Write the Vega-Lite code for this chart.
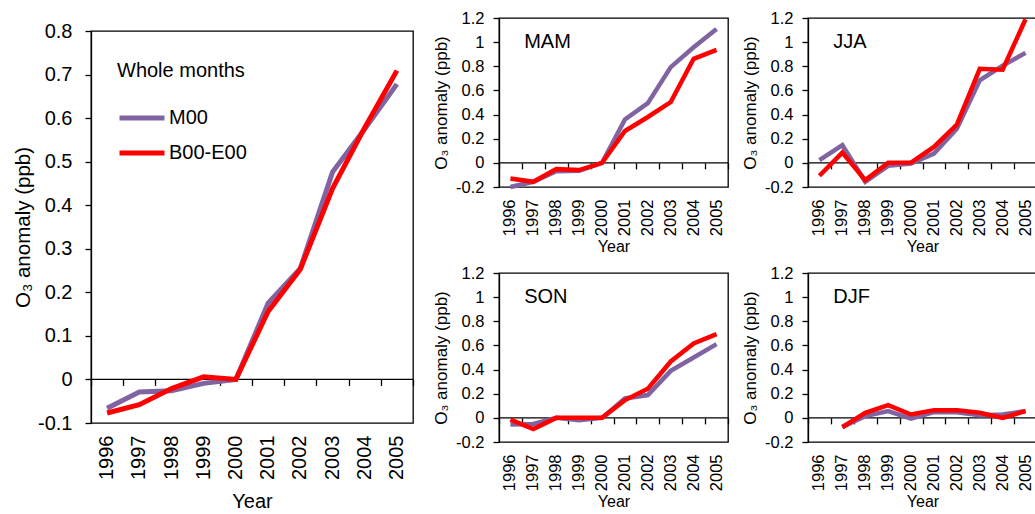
{
  "$schema": "https://vega.github.io/schema/vega-lite/v6.json",
  "padding": {"left": 12, "top": 9, "right": 0, "bottom": 0},
  "config": {
    "font": "Liberation Sans",
    "view": {"stroke": "#000", "strokeWidth": 1.3},
    "axis": {"grid": false, "domainColor": "#000", "tickColor": "#000", "labelColor": "#000", "titleColor": "#000", "titleFontWeight": "normal", "domainWidth": 1.3, "tickWidth": 1.3, "labelFont": "Liberation Sans", "titleFont": "Liberation Sans"},
    "legend": {"labelFont": "Liberation Sans", "titleFont": "Liberation Sans", "labelColor": "#000", "titleColor": "#000"}
  },
  "data": {"values": [
    {"panel": "ALL", "series": "M00", "year": "1996", "value": -0.066},
    {"panel": "ALL", "series": "M00", "year": "1997", "value": -0.029},
    {"panel": "ALL", "series": "M00", "year": "1998", "value": -0.026},
    {"panel": "ALL", "series": "M00", "year": "1999", "value": -0.009},
    {"panel": "ALL", "series": "M00", "year": "2000", "value": 0},
    {"panel": "ALL", "series": "M00", "year": "2001", "value": 0.175},
    {"panel": "ALL", "series": "M00", "year": "2002", "value": 0.255},
    {"panel": "ALL", "series": "M00", "year": "2003", "value": 0.476},
    {"panel": "ALL", "series": "M00", "year": "2004", "value": 0.575},
    {"panel": "ALL", "series": "M00", "year": "2005", "value": 0.678},
    {"panel": "ALL", "series": "B00-E00", "year": "1996", "value": -0.077},
    {"panel": "ALL", "series": "B00-E00", "year": "1997", "value": -0.058},
    {"panel": "ALL", "series": "B00-E00", "year": "1998", "value": -0.021},
    {"panel": "ALL", "series": "B00-E00", "year": "1999", "value": 0.006},
    {"panel": "ALL", "series": "B00-E00", "year": "2000", "value": 0},
    {"panel": "ALL", "series": "B00-E00", "year": "2001", "value": 0.156},
    {"panel": "ALL", "series": "B00-E00", "year": "2002", "value": 0.253},
    {"panel": "ALL", "series": "B00-E00", "year": "2003", "value": 0.438},
    {"panel": "ALL", "series": "B00-E00", "year": "2004", "value": 0.578},
    {"panel": "ALL", "series": "B00-E00", "year": "2005", "value": 0.709},

    {"panel": "MAM", "series": "M00", "year": "1996", "value": -0.2},
    {"panel": "MAM", "series": "M00", "year": "1997", "value": -0.157},
    {"panel": "MAM", "series": "M00", "year": "1998", "value": -0.07},
    {"panel": "MAM", "series": "M00", "year": "1999", "value": -0.066},
    {"panel": "MAM", "series": "M00", "year": "2000", "value": 0},
    {"panel": "MAM", "series": "M00", "year": "2001", "value": 0.36},
    {"panel": "MAM", "series": "M00", "year": "2002", "value": 0.495},
    {"panel": "MAM", "series": "M00", "year": "2003", "value": 0.793},
    {"panel": "MAM", "series": "M00", "year": "2004", "value": 0.958},
    {"panel": "MAM", "series": "M00", "year": "2005", "value": 1.109},
    {"panel": "MAM", "series": "B00-E00", "year": "1996", "value": -0.129},
    {"panel": "MAM", "series": "B00-E00", "year": "1997", "value": -0.157},
    {"panel": "MAM", "series": "B00-E00", "year": "1998", "value": -0.052},
    {"panel": "MAM", "series": "B00-E00", "year": "1999", "value": -0.06},
    {"panel": "MAM", "series": "B00-E00", "year": "2000", "value": 0},
    {"panel": "MAM", "series": "B00-E00", "year": "2001", "value": 0.264},
    {"panel": "MAM", "series": "B00-E00", "year": "2002", "value": 0.38},
    {"panel": "MAM", "series": "B00-E00", "year": "2003", "value": 0.504},
    {"panel": "MAM", "series": "B00-E00", "year": "2004", "value": 0.862},
    {"panel": "MAM", "series": "B00-E00", "year": "2005", "value": 0.936},

    {"panel": "JJA", "series": "M00", "year": "1996", "value": 0.022},
    {"panel": "JJA", "series": "M00", "year": "1997", "value": 0.146},
    {"panel": "JJA", "series": "M00", "year": "1998", "value": -0.157},
    {"panel": "JJA", "series": "M00", "year": "1999", "value": -0.025},
    {"panel": "JJA", "series": "M00", "year": "2000", "value": -0.005},
    {"panel": "JJA", "series": "M00", "year": "2001", "value": 0.077},
    {"panel": "JJA", "series": "M00", "year": "2002", "value": 0.283},
    {"panel": "JJA", "series": "M00", "year": "2003", "value": 0.683},
    {"panel": "JJA", "series": "M00", "year": "2004", "value": 0.806},
    {"panel": "JJA", "series": "M00", "year": "2005", "value": 0.911},
    {"panel": "JJA", "series": "B00-E00", "year": "1996", "value": -0.107},
    {"panel": "JJA", "series": "B00-E00", "year": "1997", "value": 0.085},
    {"panel": "JJA", "series": "B00-E00", "year": "1998", "value": -0.143},
    {"panel": "JJA", "series": "B00-E00", "year": "1999", "value": 0.0},
    {"panel": "JJA", "series": "B00-E00", "year": "2000", "value": 0.003},
    {"panel": "JJA", "series": "B00-E00", "year": "2001", "value": 0.132},
    {"panel": "JJA", "series": "B00-E00", "year": "2002", "value": 0.317},
    {"panel": "JJA", "series": "B00-E00", "year": "2003", "value": 0.779},
    {"panel": "JJA", "series": "B00-E00", "year": "2004", "value": 0.771},
    {"panel": "JJA", "series": "B00-E00", "year": "2005", "value": 1.19},

    {"panel": "SON", "series": "M00", "year": "1996", "value": -0.056},
    {"panel": "SON", "series": "M00", "year": "1997", "value": -0.05},
    {"panel": "SON", "series": "M00", "year": "1998", "value": 0},
    {"panel": "SON", "series": "M00", "year": "1999", "value": -0.02},
    {"panel": "SON", "series": "M00", "year": "2000", "value": 0},
    {"panel": "SON", "series": "M00", "year": "2001", "value": 0.161},
    {"panel": "SON", "series": "M00", "year": "2002", "value": 0.189},
    {"panel": "SON", "series": "M00", "year": "2003", "value": 0.389},
    {"panel": "SON", "series": "M00", "year": "2004", "value": 0.5},
    {"panel": "SON", "series": "M00", "year": "2005", "value": 0.611},
    {"panel": "SON", "series": "B00-E00", "year": "1996", "value": -0.014},
    {"panel": "SON", "series": "B00-E00", "year": "1997", "value": -0.092},
    {"panel": "SON", "series": "B00-E00", "year": "1998", "value": 0},
    {"panel": "SON", "series": "B00-E00", "year": "1999", "value": 0},
    {"panel": "SON", "series": "B00-E00", "year": "2000", "value": 0},
    {"panel": "SON", "series": "B00-E00", "year": "2001", "value": 0.147},
    {"panel": "SON", "series": "B00-E00", "year": "2002", "value": 0.242},
    {"panel": "SON", "series": "B00-E00", "year": "2003", "value": 0.467},
    {"panel": "SON", "series": "B00-E00", "year": "2004", "value": 0.617},
    {"panel": "SON", "series": "B00-E00", "year": "2005", "value": 0.694},

    {"panel": "DJF", "series": "M00", "year": "1997", "value": -0.075},
    {"panel": "DJF", "series": "M00", "year": "1998", "value": 0.014},
    {"panel": "DJF", "series": "M00", "year": "1999", "value": 0.056},
    {"panel": "DJF", "series": "M00", "year": "2000", "value": -0.006},
    {"panel": "DJF", "series": "M00", "year": "2001", "value": 0.047},
    {"panel": "DJF", "series": "M00", "year": "2002", "value": 0.047},
    {"panel": "DJF", "series": "M00", "year": "2003", "value": 0.022},
    {"panel": "DJF", "series": "M00", "year": "2004", "value": 0.028},
    {"panel": "DJF", "series": "M00", "year": "2005", "value": 0.056},
    {"panel": "DJF", "series": "B00-E00", "year": "1997", "value": -0.078},
    {"panel": "DJF", "series": "B00-E00", "year": "1998", "value": 0.042},
    {"panel": "DJF", "series": "B00-E00", "year": "1999", "value": 0.106},
    {"panel": "DJF", "series": "B00-E00", "year": "2000", "value": 0.028},
    {"panel": "DJF", "series": "B00-E00", "year": "2001", "value": 0.064},
    {"panel": "DJF", "series": "B00-E00", "year": "2002", "value": 0.064},
    {"panel": "DJF", "series": "B00-E00", "year": "2003", "value": 0.042},
    {"panel": "DJF", "series": "B00-E00", "year": "2004", "value": 0.0},
    {"panel": "DJF", "series": "B00-E00", "year": "2005", "value": 0.056}
  ]},
  "resolve": {"legend": {"color": "independent"}},
  "spacing": 16,
  "hconcat": [
    {
      "spacing": 1,
      "vconcat": [
        {
          "width": 10, "height": 1,
          "view": {"stroke": null},
          "data": {"values": []},
          "mark": {"type": "point", "opacity": 0},
          "encoding": {}
        },
        {
          "width": 322,
          "height": 392,
          "resolve": {"axis": {"x": "independent"}},
          "layer": [
            {
              "data": {"values": [{}]},
              "mark": {"type": "rule", "color": "#000", "strokeWidth": 1.3},
              "encoding": {"y": {"datum": 0, "type": "quantitative", "scale": {"domain": [-0.1, 0.8], "nice": false, "zero": false},
                "axis": {"title": "O₃ anomaly (ppb)", "values": [-0.1, 0, 0.1, 0.2, 0.3, 0.4, 0.5, 0.6, 0.7, 0.8], "format": ".1~f", "labelExpr": "replace(datum.label, '−', '-')", "labelFontSize": 20, "labelPadding": 13, "tickSize": 6, "titleFontSize": 20.5, "titlePadding": 4}}}
            },
            {
              "transform": [{"filter": "datum.panel === 'ALL' && datum.series === 'M00'"}],
              "mark": {"type": "line", "strokeWidth": 5},
              "encoding": {
                "x": {"field": "year", "type": "ordinal", "bandPosition": 0.5, "scale": {"type": "band", "domain": ["1996","1997","1998","1999","2000","2001","2002","2003","2004","2005"], "paddingInner": 0, "paddingOuter": 0},
                  "axis": {"orient": "bottom", "title": "Year", "ticks": false, "tickSize": 0, "domain": false, "labelAngle": -90, "labelFontSize": 20, "labelPadding": 12, "titleFontSize": 20, "titlePadding": 12}},
                "y": {"field": "value", "type": "quantitative", "scale": {"domain": [-0.1, 0.8], "nice": false, "zero": false},
                  "axis": {"title": "O₃ anomaly (ppb)", "values": [-0.1, 0, 0.1, 0.2, 0.3, 0.4, 0.5, 0.6, 0.7, 0.8], "format": ".1~f", "labelExpr": "replace(datum.label, '−', '-')", "labelFontSize": 20, "labelPadding": 13, "tickSize": 6, "titleFontSize": 20.5, "titlePadding": 4}},
                "color": {"field": "series", "type": "nominal", "scale": {"domain": ["M00", "B00-E00"], "range": ["#8064A2", "#FF0000"]},
                  "legend": {"title": "Whole months", "orient": "none", "legendX": 26, "legendY": 43, "titleFontSize": 20, "titleFontWeight": "normal", "labelFontSize": 20, "symbolType": "stroke", "symbolSize": 2025, "symbolStrokeWidth": 5, "titlePadding": 12, "rowPadding": -10, "labelOffset": 2, "padding": 0}}
              }
            },
            {
              "transform": [{"filter": "datum.panel === 'ALL' && datum.series === 'B00-E00'"}],
              "mark": {"type": "line", "strokeWidth": 5},
              "encoding": {
                "x": {"field": "year", "type": "ordinal", "bandPosition": 0.5, "scale": {"type": "band", "domain": ["1996","1997","1998","1999","2000","2001","2002","2003","2004","2005"], "paddingInner": 0, "paddingOuter": 0},
                  "axis": {"orient": "bottom", "title": null, "labels": false, "domain": false, "ticks": true, "tickBand": "extent", "tickSize": 6, "offset": -43.556}},
                "y": {"field": "value", "type": "quantitative", "scale": {"domain": [-0.1, 0.8], "nice": false, "zero": false},
                  "axis": {"title": "O₃ anomaly (ppb)", "values": [-0.1, 0, 0.1, 0.2, 0.3, 0.4, 0.5, 0.6, 0.7, 0.8], "format": ".1~f", "labelExpr": "replace(datum.label, '−', '-')", "labelFontSize": 20, "labelPadding": 13, "tickSize": 6, "titleFontSize": 20.5, "titlePadding": 4}},
                "color": {"field": "series", "type": "nominal", "scale": {"domain": ["M00", "B00-E00"], "range": ["#8064A2", "#FF0000"]}, "legend": null}
              }
            }
          ]
        }
      ]
    },
    {
      "spacing": 8,
      "vconcat": [
        {
          "spacing": 10,
          "hconcat": [
            {
              "width": 229, "height": 169,
              "resolve": {"axis": {"x": "independent"}},
              "layer": [
                {"data": {"values": [{}]}, "mark": {"type": "rule", "color": "#000", "strokeWidth": 1.3},
                 "encoding": {"y": {"datum": 0, "type": "quantitative", "scale": {"domain": [-0.2, 1.2], "nice": false, "zero": false},
                   "axis": {"title": "O₃ anomaly (ppb)", "values": [-0.2, 0, 0.2, 0.4, 0.6, 0.8, 1, 1.2], "format": ".1~f", "labelExpr": "replace(datum.label, '−', '-')", "labelFontSize": 16.5, "labelPadding": 9, "tickSize": 6, "titleFontSize": 17, "titlePadding": 5}}}},
                {"transform": [{"filter": "datum.panel === 'MAM' && datum.series === 'M00'"}], "mark": {"type": "line", "strokeWidth": 4.5},
                 "encoding": {
                   "x": {"field": "year", "type": "ordinal", "bandPosition": 0.5, "scale": {"type": "band", "domain": ["1996","1997","1998","1999","2000","2001","2002","2003","2004","2005"], "paddingInner": 0, "paddingOuter": 0},
                     "axis": {"orient": "bottom", "title": "Year", "ticks": false, "tickSize": 0, "domain": false, "labelAngle": -90, "labelFontSize": 16.5, "labelPadding": 12, "titleFontSize": 16, "titlePadding": 3}},
                   "y": {"field": "value", "type": "quantitative", "scale": {"domain": [-0.2, 1.2], "nice": false, "zero": false},
                     "axis": {"title": "O₃ anomaly (ppb)", "values": [-0.2, 0, 0.2, 0.4, 0.6, 0.8, 1, 1.2], "format": ".1~f", "labelExpr": "replace(datum.label, '−', '-')", "labelFontSize": 16.5, "labelPadding": 9, "tickSize": 6, "titleFontSize": 17, "titlePadding": 5}},
                   "color": {"field": "series", "type": "nominal", "scale": {"domain": ["M00", "B00-E00"], "range": ["#8064A2", "#FF0000"]}, "legend": null}}},
                {"transform": [{"filter": "datum.panel === 'MAM' && datum.series === 'B00-E00'"}], "mark": {"type": "line", "strokeWidth": 4.5},
                 "encoding": {
                   "x": {"field": "year", "type": "ordinal", "bandPosition": 0.5, "scale": {"type": "band", "domain": ["1996","1997","1998","1999","2000","2001","2002","2003","2004","2005"], "paddingInner": 0, "paddingOuter": 0},
                     "axis": {"orient": "bottom", "title": null, "labels": false, "domain": false, "ticks": true, "tickBand": "extent", "tickSize": 6, "offset": -24.143}},
                   "y": {"field": "value", "type": "quantitative", "scale": {"domain": [-0.2, 1.2], "nice": false, "zero": false},
                     "axis": {"title": "O₃ anomaly (ppb)", "values": [-0.2, 0, 0.2, 0.4, 0.6, 0.8, 1, 1.2], "format": ".1~f", "labelExpr": "replace(datum.label, '−', '-')", "labelFontSize": 16.5, "labelPadding": 9, "tickSize": 6, "titleFontSize": 17, "titlePadding": 5}},
                   "color": {"field": "series", "type": "nominal", "scale": {"domain": ["M00", "B00-E00"], "range": ["#8064A2", "#FF0000"]}, "legend": null}}},
                {"data": {"values": [{}]}, "mark": {"type": "text", "align": "left", "baseline": "middle", "fontSize": 20, "color": "#000"},
                 "encoding": {
                   "x": {"datum": "1997", "type": "ordinal", "bandPosition": 0.1, "scale": {"type": "band", "domain": ["1996","1997","1998","1999","2000","2001","2002","2003","2004","2005"], "paddingInner": 0, "paddingOuter": 0}, "axis": null},
                   "y": {"datum": 1, "type": "quantitative", "scale": {"domain": [-0.2, 1.2], "nice": false, "zero": false},
                     "axis": {"title": "O₃ anomaly (ppb)", "values": [-0.2, 0, 0.2, 0.4, 0.6, 0.8, 1, 1.2], "format": ".1~f", "labelExpr": "replace(datum.label, '−', '-')", "labelFontSize": 16.5, "labelPadding": 9, "tickSize": 6, "titleFontSize": 17, "titlePadding": 5}},
                   "text": {"value": "MAM"}}}
              ]
            },
            {
              "width": 229, "height": 169,
              "resolve": {"axis": {"x": "independent"}},
              "layer": [
                {"data": {"values": [{}]}, "mark": {"type": "rule", "color": "#000", "strokeWidth": 1.3},
                 "encoding": {"y": {"datum": 0, "type": "quantitative", "scale": {"domain": [-0.2, 1.2], "nice": false, "zero": false},
                   "axis": {"title": "O₃ anomaly (ppb)", "values": [-0.2, 0, 0.2, 0.4, 0.6, 0.8, 1, 1.2], "format": ".1~f", "labelExpr": "replace(datum.label, '−', '-')", "labelFontSize": 16.5, "labelPadding": 9, "tickSize": 6, "titleFontSize": 17, "titlePadding": 5}}}},
                {"transform": [{"filter": "datum.panel === 'JJA' && datum.series === 'M00'"}], "mark": {"type": "line", "strokeWidth": 4.5},
                 "encoding": {
                   "x": {"field": "year", "type": "ordinal", "bandPosition": 0.5, "scale": {"type": "band", "domain": ["1996","1997","1998","1999","2000","2001","2002","2003","2004","2005"], "paddingInner": 0, "paddingOuter": 0},
                     "axis": {"orient": "bottom", "title": "Year", "ticks": false, "tickSize": 0, "domain": false, "labelAngle": -90, "labelFontSize": 16.5, "labelPadding": 12, "titleFontSize": 16, "titlePadding": 3}},
                   "y": {"field": "value", "type": "quantitative", "scale": {"domain": [-0.2, 1.2], "nice": false, "zero": false},
                     "axis": {"title": "O₃ anomaly (ppb)", "values": [-0.2, 0, 0.2, 0.4, 0.6, 0.8, 1, 1.2], "format": ".1~f", "labelExpr": "replace(datum.label, '−', '-')", "labelFontSize": 16.5, "labelPadding": 9, "tickSize": 6, "titleFontSize": 17, "titlePadding": 5}},
                   "color": {"field": "series", "type": "nominal", "scale": {"domain": ["M00", "B00-E00"], "range": ["#8064A2", "#FF0000"]}, "legend": null}}},
                {"transform": [{"filter": "datum.panel === 'JJA' && datum.series === 'B00-E00'"}], "mark": {"type": "line", "strokeWidth": 4.5},
                 "encoding": {
                   "x": {"field": "year", "type": "ordinal", "bandPosition": 0.5, "scale": {"type": "band", "domain": ["1996","1997","1998","1999","2000","2001","2002","2003","2004","2005"], "paddingInner": 0, "paddingOuter": 0},
                     "axis": {"orient": "bottom", "title": null, "labels": false, "domain": false, "ticks": true, "tickBand": "extent", "tickSize": 6, "offset": -24.143}},
                   "y": {"field": "value", "type": "quantitative", "scale": {"domain": [-0.2, 1.2], "nice": false, "zero": false},
                     "axis": {"title": "O₃ anomaly (ppb)", "values": [-0.2, 0, 0.2, 0.4, 0.6, 0.8, 1, 1.2], "format": ".1~f", "labelExpr": "replace(datum.label, '−', '-')", "labelFontSize": 16.5, "labelPadding": 9, "tickSize": 6, "titleFontSize": 17, "titlePadding": 5}},
                   "color": {"field": "series", "type": "nominal", "scale": {"domain": ["M00", "B00-E00"], "range": ["#8064A2", "#FF0000"]}, "legend": null}}},
                {"data": {"values": [{}]}, "mark": {"type": "text", "align": "left", "baseline": "middle", "fontSize": 20, "color": "#000"},
                 "encoding": {
                   "x": {"datum": "1997", "type": "ordinal", "bandPosition": 0.1, "scale": {"type": "band", "domain": ["1996","1997","1998","1999","2000","2001","2002","2003","2004","2005"], "paddingInner": 0, "paddingOuter": 0}, "axis": null},
                   "y": {"datum": 1, "type": "quantitative", "scale": {"domain": [-0.2, 1.2], "nice": false, "zero": false},
                     "axis": {"title": "O₃ anomaly (ppb)", "values": [-0.2, 0, 0.2, 0.4, 0.6, 0.8, 1, 1.2], "format": ".1~f", "labelExpr": "replace(datum.label, '−', '-')", "labelFontSize": 16.5, "labelPadding": 9, "tickSize": 6, "titleFontSize": 17, "titlePadding": 5}},
                   "text": {"value": "JJA"}}}
              ]
            }
          ]
        },
        {
          "spacing": 10,
          "hconcat": [
            {
              "width": 229, "height": 169,
              "resolve": {"axis": {"x": "independent"}},
              "layer": [
                {"data": {"values": [{}]}, "mark": {"type": "rule", "color": "#000", "strokeWidth": 1.3},
                 "encoding": {"y": {"datum": 0, "type": "quantitative", "scale": {"domain": [-0.2, 1.2], "nice": false, "zero": false},
                   "axis": {"title": "O₃ anomaly (ppb)", "values": [-0.2, 0, 0.2, 0.4, 0.6, 0.8, 1, 1.2], "format": ".1~f", "labelExpr": "replace(datum.label, '−', '-')", "labelFontSize": 16.5, "labelPadding": 9, "tickSize": 6, "titleFontSize": 17, "titlePadding": 5}}}},
                {"transform": [{"filter": "datum.panel === 'SON' && datum.series === 'M00'"}], "mark": {"type": "line", "strokeWidth": 4.5},
                 "encoding": {
                   "x": {"field": "year", "type": "ordinal", "bandPosition": 0.5, "scale": {"type": "band", "domain": ["1996","1997","1998","1999","2000","2001","2002","2003","2004","2005"], "paddingInner": 0, "paddingOuter": 0},
                     "axis": {"orient": "bottom", "title": "Year", "ticks": false, "tickSize": 0, "domain": false, "labelAngle": -90, "labelFontSize": 16.5, "labelPadding": 12, "titleFontSize": 16, "titlePadding": 3}},
                   "y": {"field": "value", "type": "quantitative", "scale": {"domain": [-0.2, 1.2], "nice": false, "zero": false},
                     "axis": {"title": "O₃ anomaly (ppb)", "values": [-0.2, 0, 0.2, 0.4, 0.6, 0.8, 1, 1.2], "format": ".1~f", "labelExpr": "replace(datum.label, '−', '-')", "labelFontSize": 16.5, "labelPadding": 9, "tickSize": 6, "titleFontSize": 17, "titlePadding": 5}},
                   "color": {"field": "series", "type": "nominal", "scale": {"domain": ["M00", "B00-E00"], "range": ["#8064A2", "#FF0000"]}, "legend": null}}},
                {"transform": [{"filter": "datum.panel === 'SON' && datum.series === 'B00-E00'"}], "mark": {"type": "line", "strokeWidth": 4.5},
                 "encoding": {
                   "x": {"field": "year", "type": "ordinal", "bandPosition": 0.5, "scale": {"type": "band", "domain": ["1996","1997","1998","1999","2000","2001","2002","2003","2004","2005"], "paddingInner": 0, "paddingOuter": 0},
                     "axis": {"orient": "bottom", "title": null, "labels": false, "domain": false, "ticks": true, "tickBand": "extent", "tickSize": 6, "offset": -24.143}},
                   "y": {"field": "value", "type": "quantitative", "scale": {"domain": [-0.2, 1.2], "nice": false, "zero": false},
                     "axis": {"title": "O₃ anomaly (ppb)", "values": [-0.2, 0, 0.2, 0.4, 0.6, 0.8, 1, 1.2], "format": ".1~f", "labelExpr": "replace(datum.label, '−', '-')", "labelFontSize": 16.5, "labelPadding": 9, "tickSize": 6, "titleFontSize": 17, "titlePadding": 5}},
                   "color": {"field": "series", "type": "nominal", "scale": {"domain": ["M00", "B00-E00"], "range": ["#8064A2", "#FF0000"]}, "legend": null}}},
                {"data": {"values": [{}]}, "mark": {"type": "text", "align": "left", "baseline": "middle", "fontSize": 20, "color": "#000"},
                 "encoding": {
                   "x": {"datum": "1997", "type": "ordinal", "bandPosition": 0.1, "scale": {"type": "band", "domain": ["1996","1997","1998","1999","2000","2001","2002","2003","2004","2005"], "paddingInner": 0, "paddingOuter": 0}, "axis": null},
                   "y": {"datum": 1, "type": "quantitative", "scale": {"domain": [-0.2, 1.2], "nice": false, "zero": false},
                     "axis": {"title": "O₃ anomaly (ppb)", "values": [-0.2, 0, 0.2, 0.4, 0.6, 0.8, 1, 1.2], "format": ".1~f", "labelExpr": "replace(datum.label, '−', '-')", "labelFontSize": 16.5, "labelPadding": 9, "tickSize": 6, "titleFontSize": 17, "titlePadding": 5}},
                   "text": {"value": "SON"}}}
              ]
            },
            {
              "width": 229, "height": 169,
              "resolve": {"axis": {"x": "independent"}},
              "layer": [
                {"data": {"values": [{}]}, "mark": {"type": "rule", "color": "#000", "strokeWidth": 1.3},
                 "encoding": {"y": {"datum": 0, "type": "quantitative", "scale": {"domain": [-0.2, 1.2], "nice": false, "zero": false},
                   "axis": {"title": "O₃ anomaly (ppb)", "values": [-0.2, 0, 0.2, 0.4, 0.6, 0.8, 1, 1.2], "format": ".1~f", "labelExpr": "replace(datum.label, '−', '-')", "labelFontSize": 16.5, "labelPadding": 9, "tickSize": 6, "titleFontSize": 17, "titlePadding": 5}}}},
                {"transform": [{"filter": "datum.panel === 'DJF' && datum.series === 'M00'"}], "mark": {"type": "line", "strokeWidth": 4.5},
                 "encoding": {
                   "x": {"field": "year", "type": "ordinal", "bandPosition": 0.5, "scale": {"type": "band", "domain": ["1996","1997","1998","1999","2000","2001","2002","2003","2004","2005"], "paddingInner": 0, "paddingOuter": 0},
                     "axis": {"orient": "bottom", "title": "Year", "ticks": false, "tickSize": 0, "domain": false, "labelAngle": -90, "labelFontSize": 16.5, "labelPadding": 12, "titleFontSize": 16, "titlePadding": 3}},
                   "y": {"field": "value", "type": "quantitative", "scale": {"domain": [-0.2, 1.2], "nice": false, "zero": false},
                     "axis": {"title": "O₃ anomaly (ppb)", "values": [-0.2, 0, 0.2, 0.4, 0.6, 0.8, 1, 1.2], "format": ".1~f", "labelExpr": "replace(datum.label, '−', '-')", "labelFontSize": 16.5, "labelPadding": 9, "tickSize": 6, "titleFontSize": 17, "titlePadding": 5}},
                   "color": {"field": "series", "type": "nominal", "scale": {"domain": ["M00", "B00-E00"], "range": ["#8064A2", "#FF0000"]}, "legend": null}}},
                {"transform": [{"filter": "datum.panel === 'DJF' && datum.series === 'B00-E00'"}], "mark": {"type": "line", "strokeWidth": 4.5},
                 "encoding": {
                   "x": {"field": "year", "type": "ordinal", "bandPosition": 0.5, "scale": {"type": "band", "domain": ["1996","1997","1998","1999","2000","2001","2002","2003","2004","2005"], "paddingInner": 0, "paddingOuter": 0},
                     "axis": {"orient": "bottom", "title": null, "labels": false, "domain": false, "ticks": true, "tickBand": "extent", "tickSize": 6, "offset": -24.143}},
                   "y": {"field": "value", "type": "quantitative", "scale": {"domain": [-0.2, 1.2], "nice": false, "zero": false},
                     "axis": {"title": "O₃ anomaly (ppb)", "values": [-0.2, 0, 0.2, 0.4, 0.6, 0.8, 1, 1.2], "format": ".1~f", "labelExpr": "replace(datum.label, '−', '-')", "labelFontSize": 16.5, "labelPadding": 9, "tickSize": 6, "titleFontSize": 17, "titlePadding": 5}},
                   "color": {"field": "series", "type": "nominal", "scale": {"domain": ["M00", "B00-E00"], "range": ["#8064A2", "#FF0000"]}, "legend": null}}},
                {"data": {"values": [{}]}, "mark": {"type": "text", "align": "left", "baseline": "middle", "fontSize": 20, "color": "#000"},
                 "encoding": {
                   "x": {"datum": "1997", "type": "ordinal", "bandPosition": 0.1, "scale": {"type": "band", "domain": ["1996","1997","1998","1999","2000","2001","2002","2003","2004","2005"], "paddingInner": 0, "paddingOuter": 0}, "axis": null},
                   "y": {"datum": 1, "type": "quantitative", "scale": {"domain": [-0.2, 1.2], "nice": false, "zero": false},
                     "axis": {"title": "O₃ anomaly (ppb)", "values": [-0.2, 0, 0.2, 0.4, 0.6, 0.8, 1, 1.2], "format": ".1~f", "labelExpr": "replace(datum.label, '−', '-')", "labelFontSize": 16.5, "labelPadding": 9, "tickSize": 6, "titleFontSize": 17, "titlePadding": 5}},
                   "text": {"value": "DJF"}}}
              ]
            }
          ]
        }
      ]
    }
  ]
}
